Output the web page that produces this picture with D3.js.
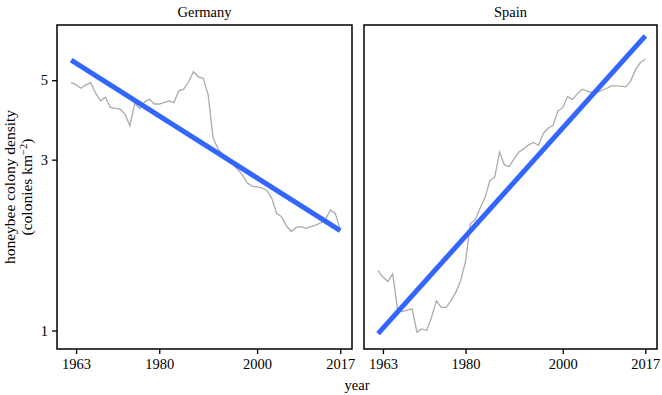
<!DOCTYPE html>
<html><head><meta charset="utf-8">
<script src="https://cdn.jsdelivr.net/npm/d3@7"></script>
<style>body{margin:0;background:#fff}svg{display:block}text{font-family:"Liberation Serif","Times New Roman",serif;fill:#000}</style>
</head><body><svg id="c" width="662" height="395"></svg>
<script>
const years = d3.range(1962, 2018);
const germany = [4.92,4.85,4.75,4.85,4.92,4.6,4.38,4.48,4.2,4.17,4.15,4.02,3.73,4.31,4.17,4.35,4.42,4.29,4.29,4.33,4.38,4.33,4.67,4.72,4.95,5.28,5.11,5.06,4.55,3.45,3.22,3.1,3.0,2.92,2.82,2.72,2.58,2.53,2.52,2.5,2.46,2.34,2.12,2.08,1.96,1.89,1.94,1.95,1.93,1.95,1.97,2.0,2.05,2.17,2.12,1.91];
const spain = [1.47,1.41,1.37,1.44,1.15,1.13,1.14,1.15,0.99,1.01,1.0,1.09,1.21,1.16,1.16,1.21,1.28,1.38,1.56,1.99,2.04,2.2,2.35,2.62,2.68,3.15,2.9,2.87,3.02,3.15,3.22,3.3,3.35,3.29,3.55,3.67,3.74,4.1,4.19,4.5,4.42,4.58,4.72,4.66,4.62,4.62,4.68,4.74,4.82,4.82,4.81,4.79,4.98,5.35,5.6,5.72];
const fitYears = [1962, 2017];
const germanyFit = [5.69, 1.90];
const spainFit = [0.98, 6.65];
const panels = ["Germany", "Spain"];
const xTicks = [1963, 1980, 2000, 2017];
const yTicks = [1, 3, 5];

(function () {
const FS = 14.5;
const svg = d3.select("#c");
const pTop = 25, pBottom = 349;
const panelX = [[57, 352], [364, 657]];
const y = d3.scaleLog().domain([0.888, 7.13]).range([pBottom, pTop]);
const series = [germany, spain];
const fits = [germanyFit, spainFit];

panels.forEach((name, i) => {
  const [x0, x1] = panelX[i];
  const x = d3.scaleLinear().domain([1959.1, 2019.4]).range([x0, x1]);
  const g = svg.append("g");
  g.append("text").attr("x", (x0 + x1) / 2).attr("y", 17).attr("text-anchor", "middle")
    .attr("font-size", FS).text(name);
  const line = d3.line().x((d, k) => x(years[k])).y(d => y(d));
  g.append("path").datum(series[i]).attr("d", line).attr("fill", "none")
    .attr("stroke", "#ababab").attr("stroke-width", 1.3);
  const fl = d3.line().x((d, k) => x(fitYears[k])).y(d => y(d));
  g.append("path").datum(fits[i]).attr("d", fl).attr("fill", "none")
    .attr("stroke", "#3366ff").attr("stroke-width", 5);
  g.append("rect").attr("x", x0).attr("y", pTop).attr("width", x1 - x0).attr("height", pBottom - pTop)
    .attr("fill", "none").attr("stroke", "#000").attr("stroke-width", 1.5);
  const xa = g.append("g").attr("transform", `translate(0,${pBottom})`)
    .call(d3.axisBottom(x).tickValues(xTicks).tickFormat(d3.format("d")).tickSize(5).tickPadding(5));
  xa.select(".domain").remove();
  xa.selectAll("line").attr("stroke-width", 1.3);
  xa.selectAll("text").attr("font-size", FS).attr("font-family", "Liberation Serif");
  if (i === 0) {
    const ya = g.append("g").attr("transform", `translate(${x0},0)`)
      .call(d3.axisLeft(y).tickValues(yTicks).tickFormat(d3.format("d")).tickSize(5).tickPadding(4));
    ya.select(".domain").remove();
    ya.selectAll("line").attr("stroke-width", 1.3);
    ya.selectAll("text").attr("font-size", FS).attr("font-family", "Liberation Serif");
  }
});

svg.append("text").attr("x", 357).attr("y", 390).attr("text-anchor", "middle").attr("font-size", FS).text("year");
const yl = svg.append("text").attr("transform", "translate(0,187) rotate(-90)").attr("text-anchor", "middle").attr("font-size", 15.5);
yl.append("tspan").attr("x", 0).attr("y", 15).text("honeybee colony density");
const t2 = yl.append("tspan").attr("x", 0).attr("y", 32).text("(colonies km");
t2.append("tspan").attr("dy", -5).attr("font-size", 10.5).text("−2");
yl.append("tspan").attr("dy", 5).text(")");
})();
</script></body></html>
